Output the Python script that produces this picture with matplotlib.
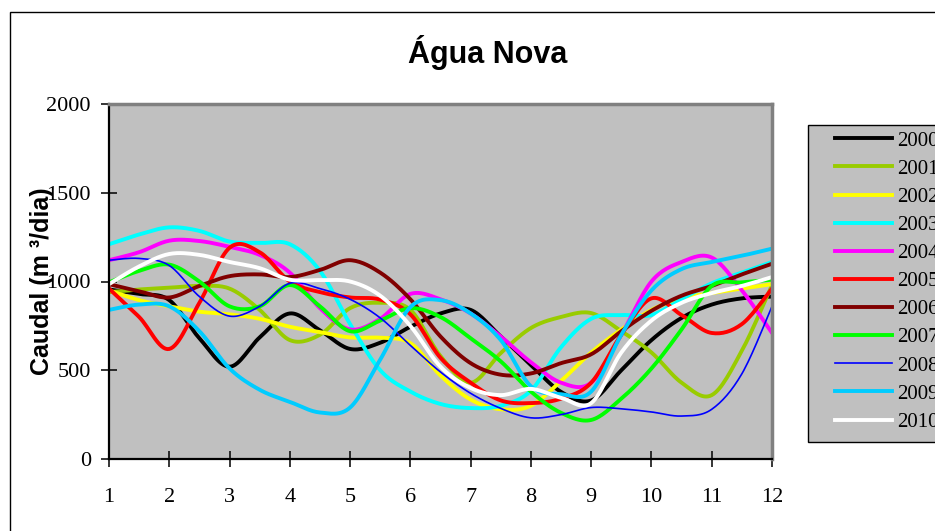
import numpy as np
import matplotlib
matplotlib.use("Agg")
import matplotlib.pyplot as plt
from matplotlib.patches import Rectangle
from matplotlib.lines import Line2D

# Caudal diário médio por ano, amostrado a cada meio mês
meses = [1, 1.5, 2, 2.5, 3, 3.5, 4, 4.5, 5, 5.5, 6, 6.5,
         7, 7.5, 8, 8.5, 9, 9.5, 10, 10.5, 11, 11.5, 12]

anos = ["2000", "2001", "2002", "2003", "2004", "2005",
        "2006", "2007", "2008", "2009", "2010"]

q2000 = [955, 930, 895, 680, 520, 685, 820, 725, 620, 655, 745, 820,
         840, 690, 530, 378, 330, 500, 670, 795, 870, 905, 915]
q2001 = [940, 955, 965, 975, 960, 840, 670, 700, 850, 880, 840, 580,
         430, 597, 738, 800, 822, 720, 600, 430, 360, 610, 980]
q2002 = [950, 895, 860, 830, 815, 790, 745, 715, 685, 683, 653, 470,
         335, 280, 300, 440, 600, 730, 840, 905, 935, 960, 985]
q2003 = [1210, 1265, 1305, 1285, 1225, 1217, 1210, 1060, 760, 500, 380, 310,
         287, 300, 385, 630, 790, 811, 811, 900, 990, 1050, 1110]
q2004 = [1120, 1165, 1230, 1228, 1195, 1150, 1050, 850, 730, 790, 930, 900,
         820, 690, 545, 430, 430, 700, 1000, 1110, 1135, 950, 710]
q2005 = [960, 800, 620, 880, 1190, 1165, 1000, 940, 910, 898, 815, 570,
         430, 330, 315, 340, 430, 700, 905, 811, 710, 760, 960]
q2006 = [985, 945, 910, 975, 1030, 1040, 1025, 1065, 1120, 1050, 900, 690,
         540, 475, 482, 540, 590, 720, 835, 920, 975, 1040, 1100]
q2007 = [995, 1060, 1095, 1000, 860, 860, 980, 860, 720, 780, 850, 800,
         680, 550, 380, 260, 220, 340, 510, 730, 975, 995, 1010]
q2008 = [1120, 1130, 1090, 915, 805, 860, 990, 960, 900, 795, 640, 490,
         370, 285, 232, 250, 290, 283, 265, 242, 280, 480, 860]
q2009 = [840, 870, 860, 720, 510, 390, 322, 262, 290, 560, 856, 895,
         820, 670, 410, 365, 380, 700, 950, 1070, 1110, 1145, 1185]
q2010 = [985, 1085, 1155, 1150, 1110, 1075, 1010, 1008, 1000, 920, 750, 520,
         400, 360, 395, 345, 315, 600, 780, 880, 935, 975, 1025]

series = [q2000, q2001, q2002, q2003, q2004, q2005,
          q2006, q2007, q2008, q2009, q2010]
cores = ["#000000", "#99CC00", "#FFFF00", "#00FFFF", "#FF00FF", "#FF0000",
         "#800000", "#00FF00", "#0000FF", "#00CCFF", "#FFFFFF"]
larguras = [2.8, 2.8, 2.8, 2.8, 2.8, 2.8, 2.8, 2.8, 1.2, 2.8, 2.8]


def suavizar(x, y, n=16):
    """Curva suave (Bezier cúbica tipo Catmull-Rom) a passar pelos pontos."""
    p = np.column_stack([np.asarray(x, float), np.asarray(y, float)])
    out = [p[0]]
    t = np.linspace(0, 1, n + 1)[1:, None]
    for i in range(len(p) - 1):
        p0 = p[i - 1] if i > 0 else p[i]
        p1, p2 = p[i], p[i + 1]
        p3 = p[i + 2] if i + 2 < len(p) else p[i + 1]
        c1 = p1 + (p2 - p0) / 6.0
        c2 = p2 - (p3 - p1) / 6.0
        seg = ((1 - t) ** 3) * p1 + 3 * ((1 - t) ** 2) * t * c1 \
            + 3 * (1 - t) * t ** 2 * c2 + t ** 3 * p2
        out.extend(seg)
    out = np.array(out)
    return out[:, 0], out[:, 1]


W, H = 935, 531
fig = plt.figure(figsize=(W / 100, H / 100), dpi=100)
fig.patch.set_facecolor("white")

# moldura exterior do gráfico
fig.patches.append(Rectangle((10 / W, -0.2), 1.5, 1 - 12 / H + 0.2,
                             transform=fig.transFigure, fill=False,
                             edgecolor="black", linewidth=1.0, zorder=0))

ax = fig.add_axes([109 / W, 1 - 459 / H, (772 - 109) / W, (459 - 104) / H])
ax.set_facecolor("#C0C0C0")

for nome, q, cor, lw in zip(anos, series, cores, larguras):
    xs, ys = suavizar(meses, q)
    ax.plot(xs, ys, color=cor, linewidth=lw, label=nome,
            solid_joinstyle="round", solid_capstyle="round")

ax.set_xlim(1, 12)
ax.set_ylim(0, 2000)
ax.set_xticks(range(1, 13))
ax.set_yticks([0, 500, 1000, 1500, 2000])

serif = ["Liberation Serif", "DejaVu Serif"]
for lab in ax.get_xticklabels() + ax.get_yticklabels():
    lab.set_fontfamily(serif)
    lab.set_fontsize(16)

ax.tick_params(axis="both", direction="inout", length=12, width=1.1,
               color="black")
ax.tick_params(axis="x", pad=15)
ax.tick_params(axis="y", pad=7)

for s in ("left", "bottom"):
    ax.spines[s].set_color("black")
    ax.spines[s].set_linewidth(1.6)
for s in ("top", "right"):
    ax.spines[s].set_color("#808080")
    ax.spines[s].set_linewidth(2.5)

fig.text(42 / W, 1 - 281 / H, "Caudal (m ³/dia)", rotation=90,
         ha="center", va="center", fontsize=18, fontweight="bold",
         family=["Liberation Sans", "DejaVu Sans"])

fig.text(488 / W, 1 - 52 / H, "Água Nova", ha="center", va="center",
         fontsize=22, fontweight="bold",
         family=["Liberation Sans", "DejaVu Sans"])

# caixa da legenda
fig.patches.append(Rectangle((808 / W, 1 - 442 / H), 0.3, (442 - 125) / H,
                             transform=fig.transFigure, facecolor="#C0C0C0",
                             edgecolor="black", linewidth=1.0, zorder=1))

handles = [Line2D([], [], color=c, linewidth=lw) for c, lw in zip(cores, larguras)]
leg = fig.legend(handles, anos, loc="upper left",
                 bbox_to_anchor=(835 / W, 1 - 131 / H),
                 frameon=False, borderpad=0, borderaxespad=0,
                 handlelength=2.74, handletextpad=0.25, labelspacing=0.41,
                 prop={"family": serif, "size": 15})
leg.set_zorder(2)

fig.savefig("out.png", dpi=100)
